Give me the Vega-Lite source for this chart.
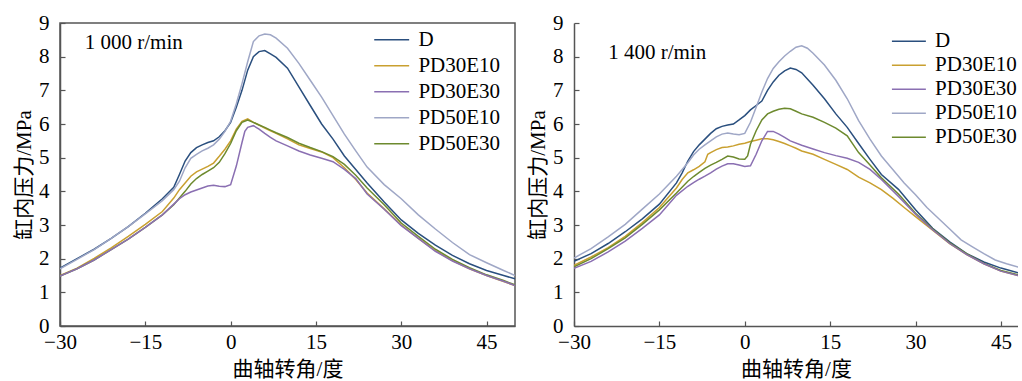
{
"$schema": "https://vega.github.io/schema/vega-lite/v6.json",
"padding": {"left": 12, "top": 11, "right": 0, "bottom": 0},
"spacing": 11,
"datasets": {
"L": [
{"s":"D","a":-30,"p":1.72},{"s":"D","a":-27,"p":2.0},{"s":"D","a":-24,"p":2.28},{"s":"D","a":-21,"p":2.6},{"s":"D","a":-18,"p":2.95},{"s":"D","a":-15,"p":3.35},{"s":"D","a":-12,"p":3.78},{"s":"D","a":-10,"p":4.12},{"s":"D","a":-9,"p":4.5},{"s":"D","a":-8,"p":4.9},{"s":"D","a":-7,"p":5.15},{"s":"D","a":-6,"p":5.3},{"s":"D","a":-5,"p":5.38},{"s":"D","a":-4,"p":5.45},{"s":"D","a":-3,"p":5.5},{"s":"D","a":-2,"p":5.62},{"s":"D","a":-1,"p":5.8},{"s":"D","a":0,"p":6.05},{"s":"D","a":1,"p":6.5},{"s":"D","a":2,"p":7.0},{"s":"D","a":3,"p":7.6},{"s":"D","a":4,"p":8.0},{"s":"D","a":5,"p":8.15},{"s":"D","a":6,"p":8.18},{"s":"D","a":7,"p":8.08},{"s":"D","a":8,"p":7.98},{"s":"D","a":10,"p":7.66},{"s":"D","a":12,"p":7.1},{"s":"D","a":14,"p":6.55},{"s":"D","a":16,"p":6.0},{"s":"D","a":18,"p":5.55},{"s":"D","a":20,"p":5.05},{"s":"D","a":22,"p":4.65},{"s":"D","a":24,"p":4.25},{"s":"D","a":27,"p":3.68},{"s":"D","a":30,"p":3.15},{"s":"D","a":33,"p":2.75},{"s":"D","a":36,"p":2.4},{"s":"D","a":39,"p":2.1},{"s":"D","a":42,"p":1.85},{"s":"D","a":45,"p":1.65},{"s":"D","a":48,"p":1.5},{"s":"D","a":50,"p":1.4},
{"s":"PD50E10","a":-30,"p":1.7},{"s":"PD50E10","a":-27,"p":1.98},{"s":"PD50E10","a":-24,"p":2.27},{"s":"PD50E10","a":-21,"p":2.6},{"s":"PD50E10","a":-18,"p":2.95},{"s":"PD50E10","a":-15,"p":3.33},{"s":"PD50E10","a":-12,"p":3.72},{"s":"PD50E10","a":-10,"p":4.05},{"s":"PD50E10","a":-9,"p":4.3},{"s":"PD50E10","a":-8,"p":4.7},{"s":"PD50E10","a":-7,"p":4.98},{"s":"PD50E10","a":-6,"p":5.1},{"s":"PD50E10","a":-5,"p":5.2},{"s":"PD50E10","a":-4,"p":5.28},{"s":"PD50E10","a":-3,"p":5.38},{"s":"PD50E10","a":-2,"p":5.55},{"s":"PD50E10","a":-1,"p":5.78},{"s":"PD50E10","a":0,"p":6.08},{"s":"PD50E10","a":1,"p":6.6},{"s":"PD50E10","a":2,"p":7.2},{"s":"PD50E10","a":3,"p":7.85},{"s":"PD50E10","a":4,"p":8.45},{"s":"PD50E10","a":5,"p":8.62},{"s":"PD50E10","a":6,"p":8.67},{"s":"PD50E10","a":7,"p":8.65},{"s":"PD50E10","a":8,"p":8.55},{"s":"PD50E10","a":10,"p":8.25},{"s":"PD50E10","a":12,"p":7.8},{"s":"PD50E10","a":14,"p":7.3},{"s":"PD50E10","a":16,"p":6.8},{"s":"PD50E10","a":18,"p":6.25},{"s":"PD50E10","a":20,"p":5.7},{"s":"PD50E10","a":22,"p":5.2},{"s":"PD50E10","a":24,"p":4.72},{"s":"PD50E10","a":27,"p":4.2},{"s":"PD50E10","a":30,"p":3.78},{"s":"PD50E10","a":33,"p":3.3},{"s":"PD50E10","a":36,"p":2.88},{"s":"PD50E10","a":39,"p":2.48},{"s":"PD50E10","a":42,"p":2.12},{"s":"PD50E10","a":45,"p":1.88},{"s":"PD50E10","a":48,"p":1.65},{"s":"PD50E10","a":50,"p":1.5},
{"s":"PD30E10","a":-30,"p":1.5},{"s":"PD30E10","a":-27,"p":1.72},{"s":"PD30E10","a":-24,"p":2.01},{"s":"PD30E10","a":-21,"p":2.32},{"s":"PD30E10","a":-18,"p":2.66},{"s":"PD30E10","a":-15,"p":3.02},{"s":"PD30E10","a":-12,"p":3.4},{"s":"PD30E10","a":-10,"p":3.8},{"s":"PD30E10","a":-9,"p":4.05},{"s":"PD30E10","a":-8,"p":4.25},{"s":"PD30E10","a":-7,"p":4.45},{"s":"PD30E10","a":-6,"p":4.58},{"s":"PD30E10","a":-5,"p":4.66},{"s":"PD30E10","a":-4,"p":4.74},{"s":"PD30E10","a":-3,"p":4.84},{"s":"PD30E10","a":-2,"p":5.04},{"s":"PD30E10","a":-1,"p":5.25},{"s":"PD30E10","a":0,"p":5.5},{"s":"PD30E10","a":1,"p":5.85},{"s":"PD30E10","a":2,"p":6.08},{"s":"PD30E10","a":3,"p":6.15},{"s":"PD30E10","a":4,"p":6.05},{"s":"PD30E10","a":5,"p":5.97},{"s":"PD30E10","a":6,"p":5.88},{"s":"PD30E10","a":7,"p":5.8},{"s":"PD30E10","a":8,"p":5.72},{"s":"PD30E10","a":10,"p":5.56},{"s":"PD30E10","a":12,"p":5.38},{"s":"PD30E10","a":14,"p":5.27},{"s":"PD30E10","a":16,"p":5.17},{"s":"PD30E10","a":18,"p":5.0},{"s":"PD30E10","a":20,"p":4.7},{"s":"PD30E10","a":22,"p":4.35},{"s":"PD30E10","a":24,"p":3.95},{"s":"PD30E10","a":27,"p":3.48},{"s":"PD30E10","a":30,"p":3.0},{"s":"PD30E10","a":33,"p":2.6},{"s":"PD30E10","a":36,"p":2.24},{"s":"PD30E10","a":39,"p":1.94},{"s":"PD30E10","a":42,"p":1.7},{"s":"PD30E10","a":45,"p":1.5},{"s":"PD30E10","a":48,"p":1.32},{"s":"PD30E10","a":50,"p":1.2},
{"s":"PD50E30","a":-30,"p":1.48},{"s":"PD50E30","a":-27,"p":1.7},{"s":"PD50E30","a":-24,"p":1.96},{"s":"PD50E30","a":-21,"p":2.27},{"s":"PD50E30","a":-18,"p":2.58},{"s":"PD50E30","a":-15,"p":2.93},{"s":"PD50E30","a":-12,"p":3.3},{"s":"PD50E30","a":-10,"p":3.6},{"s":"PD50E30","a":-9,"p":3.8},{"s":"PD50E30","a":-8,"p":4.0},{"s":"PD50E30","a":-7,"p":4.22},{"s":"PD50E30","a":-6,"p":4.38},{"s":"PD50E30","a":-5,"p":4.5},{"s":"PD50E30","a":-4,"p":4.6},{"s":"PD50E30","a":-3,"p":4.7},{"s":"PD50E30","a":-2,"p":4.86},{"s":"PD50E30","a":-1,"p":5.12},{"s":"PD50E30","a":0,"p":5.42},{"s":"PD50E30","a":1,"p":5.8},{"s":"PD50E30","a":2,"p":6.05},{"s":"PD50E30","a":3,"p":6.12},{"s":"PD50E30","a":4,"p":6.05},{"s":"PD50E30","a":5,"p":5.97},{"s":"PD50E30","a":6,"p":5.9},{"s":"PD50E30","a":7,"p":5.82},{"s":"PD50E30","a":8,"p":5.74},{"s":"PD50E30","a":10,"p":5.6},{"s":"PD50E30","a":12,"p":5.43},{"s":"PD50E30","a":14,"p":5.3},{"s":"PD50E30","a":16,"p":5.18},{"s":"PD50E30","a":18,"p":5.03},{"s":"PD50E30","a":20,"p":4.8},{"s":"PD50E30","a":22,"p":4.48},{"s":"PD50E30","a":24,"p":4.1},{"s":"PD50E30","a":27,"p":3.6},{"s":"PD50E30","a":30,"p":3.06},{"s":"PD50E30","a":33,"p":2.66},{"s":"PD50E30","a":36,"p":2.28},{"s":"PD50E30","a":39,"p":1.98},{"s":"PD50E30","a":42,"p":1.73},{"s":"PD50E30","a":45,"p":1.52},{"s":"PD50E30","a":48,"p":1.35},{"s":"PD50E30","a":50,"p":1.22},
{"s":"PD30E30","a":-30,"p":1.48},{"s":"PD30E30","a":-27,"p":1.7},{"s":"PD30E30","a":-24,"p":1.96},{"s":"PD30E30","a":-21,"p":2.27},{"s":"PD30E30","a":-18,"p":2.58},{"s":"PD30E30","a":-15,"p":2.93},{"s":"PD30E30","a":-12,"p":3.3},{"s":"PD30E30","a":-10,"p":3.62},{"s":"PD30E30","a":-9,"p":3.78},{"s":"PD30E30","a":-8,"p":3.9},{"s":"PD30E30","a":-7,"p":3.98},{"s":"PD30E30","a":-6,"p":4.04},{"s":"PD30E30","a":-5,"p":4.1},{"s":"PD30E30","a":-4,"p":4.16},{"s":"PD30E30","a":-3,"p":4.18},{"s":"PD30E30","a":-2,"p":4.15},{"s":"PD30E30","a":-1,"p":4.14},{"s":"PD30E30","a":0,"p":4.2},{"s":"PD30E30","a":1,"p":4.75},{"s":"PD30E30","a":2,"p":5.45},{"s":"PD30E30","a":2.5,"p":5.78},{"s":"PD30E30","a":3,"p":5.9},{"s":"PD30E30","a":4,"p":5.95},{"s":"PD30E30","a":5,"p":5.85},{"s":"PD30E30","a":6,"p":5.72},{"s":"PD30E30","a":7,"p":5.6},{"s":"PD30E30","a":8,"p":5.5},{"s":"PD30E30","a":10,"p":5.35},{"s":"PD30E30","a":12,"p":5.2},{"s":"PD30E30","a":14,"p":5.08},{"s":"PD30E30","a":16,"p":4.98},{"s":"PD30E30","a":18,"p":4.88},{"s":"PD30E30","a":20,"p":4.65},{"s":"PD30E30","a":22,"p":4.38},{"s":"PD30E30","a":24,"p":3.92},{"s":"PD30E30","a":27,"p":3.47},{"s":"PD30E30","a":30,"p":2.98},{"s":"PD30E30","a":33,"p":2.6},{"s":"PD30E30","a":36,"p":2.22},{"s":"PD30E30","a":39,"p":1.93},{"s":"PD30E30","a":42,"p":1.7},{"s":"PD30E30","a":45,"p":1.5},{"s":"PD30E30","a":48,"p":1.33},{"s":"PD30E30","a":50,"p":1.2}
],
"R": [
{"s":"D","a":-30,"p":1.92},{"s":"D","a":-27,"p":2.15},{"s":"D","a":-24,"p":2.45},{"s":"D","a":-21,"p":2.8},{"s":"D","a":-18,"p":3.18},{"s":"D","a":-15,"p":3.62},{"s":"D","a":-12,"p":4.25},{"s":"D","a":-11,"p":4.55},{"s":"D","a":-10,"p":4.9},{"s":"D","a":-9,"p":5.18},{"s":"D","a":-8,"p":5.38},{"s":"D","a":-7,"p":5.55},{"s":"D","a":-6,"p":5.72},{"s":"D","a":-5,"p":5.86},{"s":"D","a":-4,"p":5.93},{"s":"D","a":-3,"p":5.97},{"s":"D","a":-2,"p":6.0},{"s":"D","a":-1,"p":6.12},{"s":"D","a":0,"p":6.25},{"s":"D","a":1,"p":6.42},{"s":"D","a":2,"p":6.55},{"s":"D","a":3,"p":6.68},{"s":"D","a":4,"p":7.0},{"s":"D","a":5,"p":7.25},{"s":"D","a":6,"p":7.45},{"s":"D","a":7,"p":7.58},{"s":"D","a":8,"p":7.66},{"s":"D","a":9,"p":7.62},{"s":"D","a":10,"p":7.52},{"s":"D","a":12,"p":7.15},{"s":"D","a":14,"p":6.75},{"s":"D","a":16,"p":6.3},{"s":"D","a":18,"p":5.9},{"s":"D","a":20,"p":5.42},{"s":"D","a":22,"p":4.95},{"s":"D","a":24,"p":4.5},{"s":"D","a":27,"p":4.06},{"s":"D","a":30,"p":3.45},{"s":"D","a":33,"p":2.9},{"s":"D","a":36,"p":2.5},{"s":"D","a":39,"p":2.15},{"s":"D","a":42,"p":1.9},{"s":"D","a":45,"p":1.72},{"s":"D","a":48,"p":1.58},{"s":"D","a":50,"p":1.52},
{"s":"PD50E10","a":-30,"p":2.02},{"s":"PD50E10","a":-27,"p":2.3},{"s":"PD50E10","a":-24,"p":2.65},{"s":"PD50E10","a":-21,"p":3.02},{"s":"PD50E10","a":-18,"p":3.47},{"s":"PD50E10","a":-15,"p":3.92},{"s":"PD50E10","a":-12,"p":4.45},{"s":"PD50E10","a":-10,"p":4.85},{"s":"PD50E10","a":-9,"p":5.08},{"s":"PD50E10","a":-8,"p":5.25},{"s":"PD50E10","a":-7,"p":5.38},{"s":"PD50E10","a":-6,"p":5.5},{"s":"PD50E10","a":-5,"p":5.62},{"s":"PD50E10","a":-4,"p":5.7},{"s":"PD50E10","a":-3,"p":5.73},{"s":"PD50E10","a":-2,"p":5.7},{"s":"PD50E10","a":-1,"p":5.68},{"s":"PD50E10","a":0,"p":5.72},{"s":"PD50E10","a":1,"p":6.05},{"s":"PD50E10","a":2,"p":6.5},{"s":"PD50E10","a":3,"p":6.95},{"s":"PD50E10","a":4,"p":7.35},{"s":"PD50E10","a":5,"p":7.65},{"s":"PD50E10","a":6,"p":7.85},{"s":"PD50E10","a":7,"p":8.02},{"s":"PD50E10","a":8,"p":8.16},{"s":"PD50E10","a":9,"p":8.28},{"s":"PD50E10","a":10,"p":8.32},{"s":"PD50E10","a":11,"p":8.25},{"s":"PD50E10","a":12,"p":8.1},{"s":"PD50E10","a":14,"p":7.75},{"s":"PD50E10","a":16,"p":7.3},{"s":"PD50E10","a":18,"p":6.75},{"s":"PD50E10","a":20,"p":6.1},{"s":"PD50E10","a":22,"p":5.55},{"s":"PD50E10","a":24,"p":5.05},{"s":"PD50E10","a":26,"p":4.65},{"s":"PD50E10","a":28,"p":4.25},{"s":"PD50E10","a":30,"p":3.9},{"s":"PD50E10","a":32,"p":3.52},{"s":"PD50E10","a":34,"p":3.2},{"s":"PD50E10","a":36,"p":2.88},{"s":"PD50E10","a":38,"p":2.56},{"s":"PD50E10","a":40,"p":2.35},{"s":"PD50E10","a":42,"p":2.15},{"s":"PD50E10","a":44,"p":1.96},{"s":"PD50E10","a":46,"p":1.85},{"s":"PD50E10","a":48,"p":1.75},{"s":"PD50E10","a":50,"p":1.68},
{"s":"PD30E10","a":-30,"p":1.8},{"s":"PD30E10","a":-27,"p":2.05},{"s":"PD30E10","a":-24,"p":2.33},{"s":"PD30E10","a":-21,"p":2.66},{"s":"PD30E10","a":-18,"p":3.07},{"s":"PD30E10","a":-15,"p":3.52},{"s":"PD30E10","a":-12,"p":4.1},{"s":"PD30E10","a":-11,"p":4.35},{"s":"PD30E10","a":-10,"p":4.55},{"s":"PD30E10","a":-9,"p":4.64},{"s":"PD30E10","a":-8,"p":4.74},{"s":"PD30E10","a":-7,"p":4.88},{"s":"PD30E10","a":-6.5,"p":5.1},{"s":"PD30E10","a":-6,"p":5.15},{"s":"PD30E10","a":-5,"p":5.24},{"s":"PD30E10","a":-4,"p":5.3},{"s":"PD30E10","a":-3,"p":5.32},{"s":"PD30E10","a":-2,"p":5.35},{"s":"PD30E10","a":-1,"p":5.4},{"s":"PD30E10","a":0,"p":5.43},{"s":"PD30E10","a":1,"p":5.48},{"s":"PD30E10","a":2,"p":5.52},{"s":"PD30E10","a":3,"p":5.56},{"s":"PD30E10","a":4,"p":5.56},{"s":"PD30E10","a":5,"p":5.53},{"s":"PD30E10","a":6,"p":5.48},{"s":"PD30E10","a":7,"p":5.42},{"s":"PD30E10","a":8,"p":5.35},{"s":"PD30E10","a":9,"p":5.28},{"s":"PD30E10","a":10,"p":5.2},{"s":"PD30E10","a":12,"p":5.1},{"s":"PD30E10","a":14,"p":4.95},{"s":"PD30E10","a":16,"p":4.8},{"s":"PD30E10","a":18,"p":4.65},{"s":"PD30E10","a":20,"p":4.42},{"s":"PD30E10","a":22,"p":4.25},{"s":"PD30E10","a":24,"p":4.05},{"s":"PD30E10","a":26,"p":3.8},{"s":"PD30E10","a":28,"p":3.52},{"s":"PD30E10","a":30,"p":3.25},{"s":"PD30E10","a":33,"p":2.85},{"s":"PD30E10","a":36,"p":2.45},{"s":"PD30E10","a":39,"p":2.12},{"s":"PD30E10","a":42,"p":1.85},{"s":"PD30E10","a":45,"p":1.63},{"s":"PD30E10","a":48,"p":1.5},{"s":"PD30E10","a":50,"p":1.43},
{"s":"PD50E30","a":-30,"p":1.76},{"s":"PD50E30","a":-27,"p":2.0},{"s":"PD50E30","a":-24,"p":2.3},{"s":"PD50E30","a":-21,"p":2.62},{"s":"PD50E30","a":-18,"p":3.02},{"s":"PD50E30","a":-15,"p":3.45},{"s":"PD50E30","a":-12,"p":3.95},{"s":"PD50E30","a":-10,"p":4.3},{"s":"PD50E30","a":-9,"p":4.44},{"s":"PD50E30","a":-8,"p":4.56},{"s":"PD50E30","a":-7,"p":4.68},{"s":"PD50E30","a":-6,"p":4.78},{"s":"PD50E30","a":-5,"p":4.86},{"s":"PD50E30","a":-4,"p":4.95},{"s":"PD50E30","a":-3,"p":5.05},{"s":"PD50E30","a":-2,"p":5.02},{"s":"PD50E30","a":-1,"p":4.96},{"s":"PD50E30","a":0,"p":4.95},{"s":"PD50E30","a":0.5,"p":5.05},{"s":"PD50E30","a":1,"p":5.4},{"s":"PD50E30","a":2,"p":5.8},{"s":"PD50E30","a":3,"p":6.12},{"s":"PD50E30","a":4,"p":6.3},{"s":"PD50E30","a":5,"p":6.38},{"s":"PD50E30","a":6,"p":6.44},{"s":"PD50E30","a":7,"p":6.47},{"s":"PD50E30","a":8,"p":6.45},{"s":"PD50E30","a":9,"p":6.38},{"s":"PD50E30","a":10,"p":6.3},{"s":"PD50E30","a":12,"p":6.2},{"s":"PD50E30","a":14,"p":6.05},{"s":"PD50E30","a":16,"p":5.88},{"s":"PD50E30","a":18,"p":5.65},{"s":"PD50E30","a":20,"p":5.15},{"s":"PD50E30","a":22,"p":4.78},{"s":"PD50E30","a":24,"p":4.4},{"s":"PD50E30","a":27,"p":3.92},{"s":"PD50E30","a":30,"p":3.35},{"s":"PD50E30","a":33,"p":2.88},{"s":"PD50E30","a":36,"p":2.47},{"s":"PD50E30","a":39,"p":2.14},{"s":"PD50E30","a":42,"p":1.86},{"s":"PD50E30","a":45,"p":1.65},{"s":"PD50E30","a":48,"p":1.52},{"s":"PD50E30","a":50,"p":1.45},
{"s":"PD30E30","a":-30,"p":1.71},{"s":"PD30E30","a":-27,"p":1.92},{"s":"PD30E30","a":-24,"p":2.2},{"s":"PD30E30","a":-21,"p":2.52},{"s":"PD30E30","a":-18,"p":2.9},{"s":"PD30E30","a":-15,"p":3.3},{"s":"PD30E30","a":-12,"p":3.88},{"s":"PD30E30","a":-10,"p":4.15},{"s":"PD30E30","a":-9,"p":4.26},{"s":"PD30E30","a":-8,"p":4.36},{"s":"PD30E30","a":-7,"p":4.45},{"s":"PD30E30","a":-6,"p":4.55},{"s":"PD30E30","a":-5,"p":4.66},{"s":"PD30E30","a":-4,"p":4.75},{"s":"PD30E30","a":-3,"p":4.82},{"s":"PD30E30","a":-2,"p":4.82},{"s":"PD30E30","a":-1,"p":4.78},{"s":"PD30E30","a":0,"p":4.74},{"s":"PD30E30","a":1,"p":4.76},{"s":"PD30E30","a":2,"p":5.1},{"s":"PD30E30","a":3,"p":5.5},{"s":"PD30E30","a":4,"p":5.78},{"s":"PD30E30","a":5,"p":5.78},{"s":"PD30E30","a":6,"p":5.7},{"s":"PD30E30","a":7,"p":5.6},{"s":"PD30E30","a":8,"p":5.5},{"s":"PD30E30","a":10,"p":5.37},{"s":"PD30E30","a":12,"p":5.26},{"s":"PD30E30","a":14,"p":5.15},{"s":"PD30E30","a":16,"p":5.06},{"s":"PD30E30","a":18,"p":4.98},{"s":"PD30E30","a":20,"p":4.86},{"s":"PD30E30","a":22,"p":4.65},{"s":"PD30E30","a":24,"p":4.35},{"s":"PD30E30","a":27,"p":3.85},{"s":"PD30E30","a":30,"p":3.32},{"s":"PD30E30","a":33,"p":2.86},{"s":"PD30E30","a":36,"p":2.45},{"s":"PD30E30","a":39,"p":2.12},{"s":"PD30E30","a":42,"p":1.85},{"s":"PD30E30","a":45,"p":1.63},{"s":"PD30E30","a":48,"p":1.5},{"s":"PD30E30","a":50,"p":1.42}
]
},
"hconcat": [
{
"width": 455, "height": 303,
"layer": [
{"data": {"name": "L"},
 "mark": {"type": "line", "strokeWidth": 1.5, "clip": true},
 "encoding": {
  "x": {"field": "a", "type": "quantitative", "scale": {"domain": [-30, 50], "nice": false}, "axis": {"values": [-30, -15, 0, 15, 30, 45], "title": "曲轴转角/度"}},
  "y": {"field": "p", "type": "quantitative", "scale": {"domain": [0, 9], "nice": false}, "axis": {"values": [0,1,2,3,4,5,6,7,8,9], "title": "缸内压力/MPa"}},
  "color": {"field": "s", "type": "nominal", "scale": {"domain": ["D","PD30E10","PD30E30","PD50E10","PD50E30"], "range": ["#2a4f7e","#c9a030","#8a6fb2","#9fa7c6","#6d8a2e"]}, "legend": {"title": null, "orient": "none", "legendX": 315.7, "legendY": 0.7, "rowPadding": 0, "symbolSize": 876, "symbolType": "M-1.18,0H1.18", "labelOffset": 10.7}}
 }},
{"data": {"values": [{"a": -25.65, "p": 8.4, "t": "1 000 r/min"}]},
 "mark": {"type": "text", "align": "left", "baseline": "middle", "fontSize": 21, "font": "Liberation Serif", "color": "#000"},
 "encoding": {
  "x": {"field": "a", "type": "quantitative", "scale": {"domain": [-30, 50], "nice": false}, "axis": {"values": [-30, -15, 0, 15, 30, 45], "title": "曲轴转角/度"}},
  "y": {"field": "p", "type": "quantitative", "scale": {"domain": [0, 9], "nice": false}, "axis": {"values": [0,1,2,3,4,5,6,7,8,9], "title": "缸内压力/MPa"}},
  "text": {"field": "t"}}}
]
},
{
"width": 444, "height": 303,
"view": {"stroke": null},
"layer": [
{"data": {"name": "R"},
 "mark": {"type": "line", "strokeWidth": 1.5, "clip": true},
 "encoding": {
  "x": {"field": "a", "type": "quantitative", "scale": {"domain": [-30, 48.0], "nice": false}, "axis": {"values": [-30, -15, 0, 15, 30, 45], "title": "曲轴转角/度"}},
  "y": {"field": "p", "type": "quantitative", "scale": {"domain": [0, 9], "nice": false}, "axis": {"values": [0,1,2,3,4,5,6,7,8,9], "title": "缸内压力/MPa"}},
  "color": {"field": "s", "type": "nominal", "scale": {"domain": ["D","PD30E10","PD30E30","PD50E10","PD50E30"], "range": ["#2a4f7e","#c9a030","#8a6fb2","#9fa7c6","#6d8a2e"]}, "legend": {"title": null, "orient": "none", "legendX": 320.9, "legendY": 4.3, "rowPadding": 0, "symbolSize": 661, "symbolType": "M-1.32,0H1.32", "labelOffset": 12.2}}
 }},
{"data": {"values": [{"a": -24, "p": 8.1, "t": "1 400 r/min"}]},
 "mark": {"type": "text", "align": "left", "baseline": "middle", "fontSize": 21, "font": "Liberation Serif", "color": "#000"},
 "encoding": {
  "x": {"field": "a", "type": "quantitative", "scale": {"domain": [-30, 48.0], "nice": false}, "axis": {"values": [-30, -15, 0, 15, 30, 45], "title": "曲轴转角/度"}},
  "y": {"field": "p", "type": "quantitative", "scale": {"domain": [0, 9], "nice": false}, "axis": {"values": [0,1,2,3,4,5,6,7,8,9], "title": "缸内压力/MPa"}},
  "text": {"field": "t"}}},
{"mark": {"type": "rule", "color": "#555", "strokeWidth": 1.5},
 "encoding": {"y": {"datum": 9, "type": "quantitative", "scale": {"domain": [0, 9], "nice": false}, "axis": {"values": [0,1,2,3,4,5,6,7,8,9], "title": "缸内压力/MPa"}}}}
]
}
],
"resolve": {"scale": {"color": "independent", "x": "independent"}, "legend": {"color": "independent"}},
"config": {
 "font": "Liberation Serif, Noto Sans CJK SC",
 "view": {"stroke": "#555", "strokeWidth": 1.5},
 "axis": {"grid": false, "labelFont": "Liberation Serif", "labelFontSize": 21, "labelColor": "#000", "titleFont": "Liberation Serif, Noto Sans CJK SC", "titleFontSize": 21, "titleFontWeight": "normal", "titleColor": "#000", "domainColor": "#555", "domainWidth": 1.5, "tickColor": "#555", "tickSize": -5, "tickWidth": 1.2, "labelFlush": false, "labelOverlap": false, "labelPadding": 16, "titlePadding": 4},
 "axisX": {"labelPadding": 10, "titlePadding": 6},
 "legend": {"symbolStrokeWidth": 1.5, "labelFont": "Liberation Serif", "labelFontSize": 21, "labelColor": "#000", "padding": 0}
}
}
